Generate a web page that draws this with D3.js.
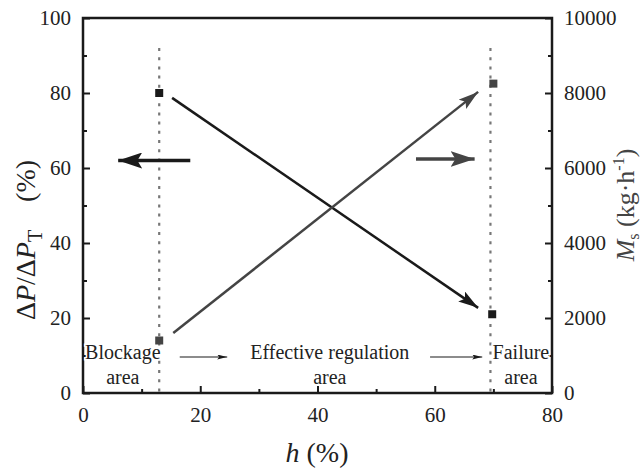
<!DOCTYPE html>
<html>
<head>
<meta charset="utf-8">
<script src="https://cdn.jsdelivr.net/npm/d3@7"></script>
<style>
  body { margin: 0; background: #fff; }
  svg { display: block; }
</style>
</head>
<body>
<svg id="chart" width="642" height="471"></svg>
<script>
// Pressure-drop ratio (left axis) and solids flow (right axis) against opening h
const pressurePoints = [[13, 80], [69.8, 21]];      // ΔP/ΔP_T (%)
const flowPoints = [[13, 1400], [70, 8250]];        // M_s (kg·h⁻¹)
const boundaries = [13, 69.5];                      // region borders on h
const xTicks = [0, 20, 40, 60, 80];
const leftTicks = [0, 20, 40, 60, 80, 100];
const rightTicks = [0, 2000, 4000, 6000, 8000, 10000];

// Trend arrows: [x0, y0, x1, y1]
const pressureTrend = [15.2, 78.7, 67.4, 22.7];
const flowTrend = [15.4, 1600, 67.4, 8030];
const leftPointer = [18.3, 62, 6.0, 62];
const rightPointer = [56.8, 62.4, 66.8, 62.4];
const flowArrows = [[16.5, 9.6, 24.6, 9.6], [59.2, 9.6, 68.1, 9.6]];
const regionLabels = [
  { x: 6.8, lines: ["Blockage", "area"] },
  { x: 42.1, lines: ["Effective regulation", "area"] },
  { x: 74.7, lines: ["Failure", "area"] }
];

const svg = d3.select("#chart");
const m = { left: 83, right: 90, top: 18, bottom: 78 };
const W = 642, H = 471;
const x = d3.scaleLinear().domain([0, 80]).range([m.left, W - m.right]);
const yL = d3.scaleLinear().domain([0, 100]).range([H - m.bottom, m.top]);
const yR = d3.scaleLinear().domain([0, 10000]).range([H - m.bottom, m.top]);

const dark = "#1a1a1a", grey = "#444";
const serif = "\"Liberation Serif\"";

const defs = svg.append("defs");
function head(id, color, w, h) {
  defs.append("marker").attr("id", id)
    .attr("viewBox", `0 0 ${w} ${h}`).attr("refX", w).attr("refY", h / 2)
    .attr("markerWidth", w).attr("markerHeight", h)
    .attr("markerUnits", "userSpaceOnUse").attr("orient", "auto")
    .append("path").attr("d", `M0,0 L${w},${h / 2} L0,${h} L${w * 0.2},${h / 2} Z`)
    .attr("fill", color);
}
head("hDark", dark, 20, 12);
head("hGrey", grey, 20, 12);
head("hBig", dark, 24, 16);
head("hBigGrey", grey, 24, 16);
head("hSmall", dark, 10, 5);

// dotted region borders
svg.selectAll(".border").data(boundaries).join("line")
  .attr("x1", d => x(d)).attr("x2", d => x(d))
  .attr("y1", yL(92)).attr("y2", yL(0))
  .attr("stroke", "#777").attr("stroke-width", 2.2)
  .attr("stroke-dasharray", "3,6.2");

// axes
function styleAxis(g) {
  g.select(".domain").remove();
  g.selectAll("text").style("font-family", serif).style("font-size", "21px").attr("fill", "#222");
  g.selectAll("line").attr("stroke", dark).attr("stroke-width", 2);
}
svg.append("g").attr("transform", `translate(0,${yL(0)})`)
  .call(d3.axisBottom(x).tickValues(xTicks).tickSize(-7).tickPadding(14).tickFormat(d3.format("d")))
  .call(styleAxis);
svg.append("g").attr("transform", `translate(0,${yL(0)})`)
  .call(d3.axisBottom(x).tickValues([10, 30, 50, 70]).tickSize(-4).tickFormat(""))
  .call(styleAxis);

svg.append("g").attr("transform", `translate(${x(0)},0)`)
  .call(d3.axisLeft(yL).tickValues(leftTicks).tickSize(-7).tickPadding(12).tickFormat(d3.format("d")))
  .call(styleAxis);
svg.append("g").attr("transform", `translate(${x(0)},0)`)
  .call(d3.axisLeft(yL).tickValues([10, 30, 50, 70, 90]).tickSize(-4).tickFormat(""))
  .call(styleAxis);

svg.append("g").attr("transform", `translate(${x(80)},0)`)
  .call(d3.axisRight(yR).tickValues(rightTicks).tickSize(-7).tickPadding(12).tickFormat(d3.format("d")))
  .call(styleAxis);
svg.append("g").attr("transform", `translate(${x(80)},0)`)
  .call(d3.axisRight(yR).tickValues([1000, 3000, 5000, 7000, 9000]).tickSize(-4).tickFormat(""))
  .call(styleAxis);

// frame
svg.append("rect").attr("x", x(0)).attr("y", yL(100))
  .attr("width", x(80) - x(0)).attr("height", yL(0) - yL(100))
  .attr("fill", "none").attr("stroke", dark).attr("stroke-width", 2.5);

// data markers
svg.selectAll(".pp").data(pressurePoints).join("rect")
  .attr("x", d => x(d[0]) - 4).attr("y", d => yL(d[1]) - 4)
  .attr("width", 8).attr("height", 8).attr("fill", dark);
svg.selectAll(".fp").data(flowPoints).join("rect")
  .attr("x", d => x(d[0]) - 4).attr("y", d => yR(d[1]) - 4)
  .attr("width", 8).attr("height", 8).attr("fill", grey);

// trend lines
svg.append("line")
  .attr("x1", x(pressureTrend[0])).attr("y1", yL(pressureTrend[1]))
  .attr("x2", x(pressureTrend[2])).attr("y2", yL(pressureTrend[3]))
  .attr("stroke", dark).attr("stroke-width", 2.5).attr("marker-end", "url(#hDark)");
svg.append("line")
  .attr("x1", x(flowTrend[0])).attr("y1", yR(flowTrend[1]))
  .attr("x2", x(flowTrend[2])).attr("y2", yR(flowTrend[3]))
  .attr("stroke", grey).attr("stroke-width", 2.5).attr("marker-end", "url(#hGrey)");

// axis pointers
svg.append("line")
  .attr("x1", x(leftPointer[0])).attr("y1", yL(leftPointer[1]))
  .attr("x2", x(leftPointer[2])).attr("y2", yL(leftPointer[3]))
  .attr("stroke", dark).attr("stroke-width", 3.5).attr("marker-end", "url(#hBig)");
svg.append("line")
  .attr("x1", x(rightPointer[0])).attr("y1", yL(rightPointer[1]))
  .attr("x2", x(rightPointer[2])).attr("y2", yL(rightPointer[3]))
  .attr("stroke", grey).attr("stroke-width", 3.5).attr("marker-end", "url(#hBigGrey)");

// region flow arrows
svg.selectAll(".fa").data(flowArrows).join("line")
  .attr("x1", d => x(d[0])).attr("y1", d => yL(d[1]))
  .attr("x2", d => x(d[2])).attr("y2", d => yL(d[3]))
  .attr("stroke", dark).attr("stroke-width", 1.2).attr("marker-end", "url(#hSmall)");

// region labels
regionLabels.forEach(r => {
  r.lines.forEach((t, i) => {
    svg.append("text").attr("x", x(r.x)).attr("y", 359 + i * 25)
      .attr("text-anchor", "middle").attr("fill", "#222")
      .style("font-family", serif).style("font-size", "20px")
      .attr("stroke", "#fff").attr("stroke-width", 3).attr("paint-order", "stroke")
      .text(t);
  });
});

// x-axis title
const xt = svg.append("text").attr("x", 317).attr("y", 462)
  .style("font-family", serif).style("font-size", "28px")
  .attr("text-anchor", "middle").attr("fill", "#222");
xt.append("tspan").attr("font-style", "italic").text("h");
xt.append("tspan").text(" (%)");

// left title
const lt = svg.append("text").attr("transform", "translate(35,240) rotate(-90)")
  .style("font-family", serif).style("font-size", "28px")
  .attr("text-anchor", "middle").attr("fill", "#222");
lt.append("tspan").text("Δ");
lt.append("tspan").attr("font-style", "italic").text("P");
lt.append("tspan").text("/Δ");
lt.append("tspan").attr("font-style", "italic").text("P");
lt.append("tspan").style("font-size", "20px").attr("dy", 7).text("T");
lt.append("tspan").attr("dy", -7).text("\u2003(%)");

// right title
const rt = svg.append("text").attr("transform", "translate(634,205) rotate(-90)")
  .style("font-family", serif).style("font-size", "26px")
  .attr("text-anchor", "middle").attr("fill", grey);
rt.append("tspan").attr("font-style", "italic").text("M");
rt.append("tspan").style("font-size", "16px").attr("dy", 5).text("s");
rt.append("tspan").attr("dy", -5).text(" (kg·h");
rt.append("tspan").style("font-size", "16px").attr("dy", -10).text("-1");
rt.append("tspan").attr("dy", 10).text(")");
</script>
</body>
</html>
